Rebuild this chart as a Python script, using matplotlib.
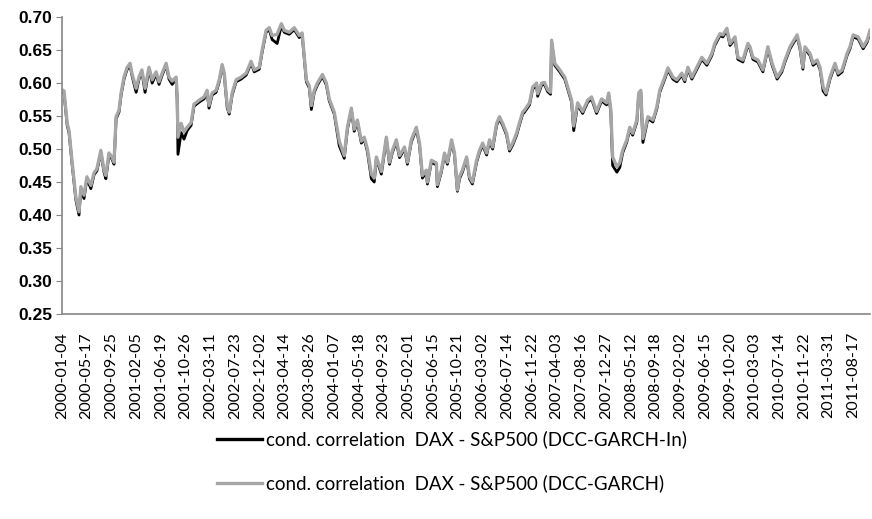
import numpy as np
import matplotlib
matplotlib.use("Agg")
import matplotlib.pyplot as plt

# trading-day index of each reading (one tick label every 94 observations)
obs = [0, 8, 15, 20, 27, 38, 53, 65, 72, 84, 95, 110, 122, 133, 148, 160, 167, 179, 190, 198,
       206, 217, 225, 236, 247, 259, 266, 282, 293, 304, 316, 331, 343, 358, 369, 381, 396, 407, 419, 434,
       438, 441, 453, 464, 476, 491, 502, 521, 540, 552, 559, 571, 586, 598, 609, 617, 628, 636, 647, 662,
       681, 700, 719, 731, 750, 761, 776, 788, 799, 818, 834, 845, 864, 883, 902, 913, 921, 929, 940, 948,
       959, 971, 990, 1005, 1016, 1035, 1054, 1073, 1085, 1100, 1111, 1123, 1138, 1149, 1161, 1176, 1187, 1195, 1214, 1233,
       1245, 1256, 1271, 1283, 1302, 1313, 1328, 1347, 1359, 1370, 1385, 1389, 1404, 1423, 1427, 1442, 1454, 1465, 1481, 1492,
       1503, 1511, 1522, 1538, 1549, 1560, 1576, 1587, 1599, 1614, 1625, 1637, 1652, 1663, 1675, 1690, 1701, 1713, 1728, 1739,
       1751, 1758, 1777, 1789, 1804, 1808, 1823, 1834, 1846, 1857, 1861, 1873, 1892, 1911, 1922, 1937, 1945, 1960, 1979, 1998,
       2013, 2032, 2051, 2070, 2078, 2086, 2093, 2109, 2120, 2131, 2147, 2158, 2169, 2185, 2192, 2200, 2208, 2227, 2246, 2261,
       2272, 2291, 2303, 2322, 2337, 2356, 2367, 2379, 2394, 2413, 2432, 2451, 2470, 2481, 2501, 2512, 2527, 2539, 2558, 2569,
       2588, 2607, 2615, 2626, 2645, 2664, 2683, 2699, 2718, 2736, 2748, 2767, 2794, 2805, 2816, 2824, 2843, 2855, 2870, 2881,
       2893, 2904, 2919, 2938, 2950, 2965, 2984, 2995, 3007, 3026, 3045, 3060, 3071]

# DCC-GARCH (grey)
corr_garch = [0.590, 0.588, 0.560, 0.539, 0.528, 0.483, 0.427, 0.405, 0.443, 0.430, 0.458, 0.445, 0.464, 0.470, 0.498, 0.468, 0.460, 0.494, 0.488, 0.480,
              0.549, 0.559, 0.585, 0.609, 0.623, 0.630, 0.615, 0.592, 0.609, 0.620, 0.592, 0.624, 0.605, 0.617, 0.602, 0.615, 0.630, 0.609, 0.603, 0.609,
              0.580, 0.518, 0.539, 0.526, 0.533, 0.540, 0.568, 0.574, 0.579, 0.589, 0.566, 0.585, 0.589, 0.605, 0.628, 0.615, 0.566, 0.556, 0.585, 0.605,
              0.609, 0.615, 0.633, 0.620, 0.624, 0.650, 0.680, 0.684, 0.672, 0.674, 0.690, 0.680, 0.677, 0.684, 0.672, 0.676, 0.640, 0.605, 0.596, 0.566,
              0.589, 0.600, 0.613, 0.600, 0.576, 0.556, 0.512, 0.490, 0.533, 0.562, 0.530, 0.544, 0.512, 0.518, 0.500, 0.462, 0.456, 0.488, 0.466, 0.518,
              0.480, 0.498, 0.514, 0.490, 0.503, 0.480, 0.514, 0.533, 0.509, 0.460, 0.468, 0.450, 0.483, 0.479, 0.446, 0.468, 0.494, 0.480, 0.514, 0.494,
              0.438, 0.458, 0.468, 0.488, 0.458, 0.450, 0.483, 0.498, 0.509, 0.494, 0.514, 0.503, 0.539, 0.549, 0.539, 0.524, 0.500, 0.509, 0.524, 0.540,
              0.556, 0.559, 0.570, 0.594, 0.600, 0.584, 0.600, 0.601, 0.590, 0.586, 0.665, 0.630, 0.620, 0.609, 0.594, 0.574, 0.535, 0.570, 0.557, 0.574,
              0.579, 0.557, 0.576, 0.570, 0.585, 0.560, 0.488, 0.473, 0.479, 0.498, 0.514, 0.533, 0.524, 0.544, 0.585, 0.589, 0.516, 0.549, 0.544, 0.564,
              0.589, 0.609, 0.623, 0.609, 0.605, 0.615, 0.605, 0.624, 0.609, 0.624, 0.639, 0.630, 0.645, 0.660, 0.675, 0.673, 0.683, 0.660, 0.670, 0.639,
              0.635, 0.660, 0.655, 0.639, 0.635, 0.620, 0.655, 0.630, 0.609, 0.620, 0.635, 0.655, 0.673, 0.655, 0.624, 0.655, 0.645, 0.630, 0.635, 0.624,
              0.594, 0.585, 0.609, 0.630, 0.615, 0.620, 0.645, 0.655, 0.673, 0.670, 0.655, 0.665, 0.680]

# DCC-GARCH-In (black), mostly hidden under the grey line
corr_garch_in = [0.588, 0.585, 0.557, 0.536, 0.525, 0.480, 0.423, 0.400, 0.440, 0.425, 0.455, 0.440, 0.461, 0.467, 0.495, 0.465, 0.455, 0.491, 0.485, 0.477,
                 0.546, 0.556, 0.582, 0.606, 0.620, 0.627, 0.612, 0.586, 0.606, 0.617, 0.586, 0.621, 0.600, 0.614, 0.598, 0.612, 0.627, 0.606, 0.598, 0.606,
                 0.576, 0.492, 0.525, 0.515, 0.528, 0.536, 0.565, 0.571, 0.576, 0.586, 0.562, 0.582, 0.586, 0.602, 0.625, 0.612, 0.563, 0.553, 0.582, 0.602,
                 0.606, 0.612, 0.630, 0.617, 0.621, 0.647, 0.677, 0.681, 0.666, 0.660, 0.687, 0.677, 0.674, 0.681, 0.669, 0.673, 0.637, 0.602, 0.593, 0.560,
                 0.586, 0.597, 0.610, 0.597, 0.573, 0.553, 0.505, 0.486, 0.530, 0.559, 0.527, 0.541, 0.509, 0.515, 0.496, 0.455, 0.450, 0.485, 0.462, 0.515,
                 0.477, 0.495, 0.511, 0.487, 0.500, 0.477, 0.511, 0.530, 0.506, 0.456, 0.465, 0.447, 0.480, 0.476, 0.443, 0.465, 0.491, 0.477, 0.511, 0.491,
                 0.436, 0.455, 0.465, 0.485, 0.455, 0.447, 0.480, 0.495, 0.506, 0.491, 0.511, 0.500, 0.536, 0.546, 0.536, 0.521, 0.497, 0.506, 0.521, 0.537,
                 0.553, 0.556, 0.567, 0.591, 0.597, 0.580, 0.597, 0.598, 0.587, 0.583, 0.662, 0.627, 0.617, 0.606, 0.591, 0.571, 0.528, 0.567, 0.554, 0.571,
                 0.576, 0.554, 0.573, 0.567, 0.582, 0.556, 0.475, 0.465, 0.472, 0.494, 0.511, 0.530, 0.521, 0.541, 0.582, 0.586, 0.510, 0.546, 0.541, 0.561,
                 0.586, 0.606, 0.620, 0.606, 0.602, 0.612, 0.602, 0.621, 0.606, 0.621, 0.636, 0.627, 0.642, 0.657, 0.672, 0.670, 0.680, 0.657, 0.667, 0.636,
                 0.632, 0.657, 0.652, 0.636, 0.632, 0.617, 0.652, 0.627, 0.606, 0.617, 0.632, 0.652, 0.670, 0.652, 0.621, 0.652, 0.642, 0.627, 0.632, 0.621,
                 0.588, 0.582, 0.606, 0.627, 0.612, 0.617, 0.642, 0.652, 0.670, 0.667, 0.652, 0.662, 0.677]

tick_labels = ["2000-01-04", "2000-05-17", "2000-09-25", "2001-02-05", "2001-06-19", "2001-10-26",
               "2002-03-11", "2002-07-23", "2002-12-02", "2003-04-14", "2003-08-26", "2004-01-07",
               "2004-05-18", "2004-09-23", "2005-02-01", "2005-06-15", "2005-10-21", "2006-03-02",
               "2006-07-14", "2006-11-22", "2007-04-03", "2007-08-16", "2007-12-27", "2008-05-12",
               "2008-09-18", "2009-02-02", "2009-06-15", "2009-10-20", "2010-03-03", "2010-07-14",
               "2010-11-22", "2011-03-31", "2011-08-17"]
label_step = 94

fig = plt.figure(figsize=(8.72, 5.19), dpi=100)
ax = fig.add_axes([0.071, 0.395, 0.927, 0.572])

ax.plot(obs, corr_garch_in, color="black", lw=2.0,
        label="cond. correlation  DAX - S&P500 (DCC-GARCH-In)")
ax.plot(obs, corr_garch, color="#a6a6a6", lw=2.4,
        label="cond. correlation  DAX - S&P500 (DCC-GARCH)")

ax.set_xlim(0, 3072)
ax.set_ylim(0.25, 0.70)
ax.set_yticks(np.arange(0.25, 0.701, 0.05))
ax.set_yticklabels([f"{v:.2f}" for v in np.arange(0.25, 0.701, 0.05)],
                   fontfamily="Liberation Sans", fontweight="bold", fontsize=12.5)
ax.set_xticks([i * label_step for i in range(len(tick_labels))])
ax.set_xticklabels(tick_labels, rotation=90, fontfamily="Lato", fontsize=11.5)
ax.tick_params(axis="x", length=0, pad=13)
ax.tick_params(axis="y", length=4, color="#868686", pad=3)

for s in ["top", "right"]:
    ax.spines[s].set_visible(False)
for s in ["left", "bottom"]:
    ax.spines[s].set_color("#868686")
    ax.spines[s].set_linewidth(1.2)

leg = fig.legend(loc="upper center", bbox_to_anchor=(0.518, 0.203), frameon=False,
                 prop={"family": "Lato", "size": 13.5}, handlelength=2.4,
                 labelspacing=1.4, handletextpad=0.2)
for line in leg.get_lines():
    line.set_linewidth(2.4)

fig.savefig("out.png", dpi=100)
